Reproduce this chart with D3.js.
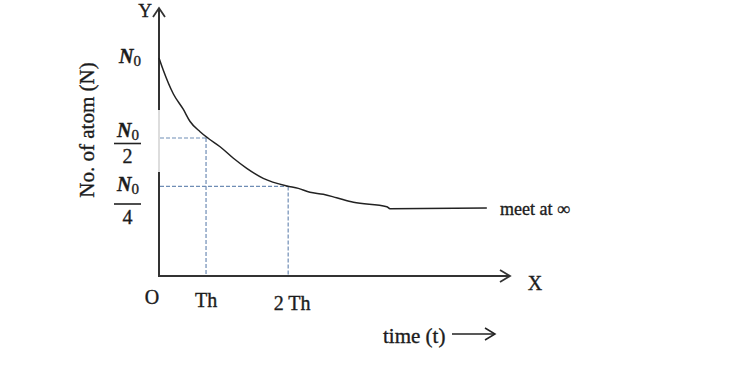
<!DOCTYPE html>
<html><head><meta charset="utf-8">
<script src="https://cdn.jsdelivr.net/npm/d3@7"></script>
<style>body{margin:0;background:#fff}svg{display:block}text{font-family:"Liberation Serif","Times New Roman",serif;fill:#1c1c1c;stroke:#1c1c1c;stroke-width:0.35px}</style>
</head><body>
<svg id="c" width="751" height="381"></svg>
<script>
// Data (arbitrary units)
const curveT = [0, 1.2, 4.1, 6.9, 8.8, 11.7, 14.0, 17.4, 21.2, 25.0, 29.7, 36.4, 39.7, 43.0, 46.8, 50.6, 55.4, 64.9, 65.8, 93.4];
const curveN = [100, 94.5, 83.5, 76.5, 71.0, 66.2, 63.2, 59.3, 54.0, 49.4, 44.8, 41.3, 40.2, 38.4, 37.5, 35.9, 33.8, 31.8, 30.9, 31.2];
const xTickVals = [0, 13.4, 36.8];
const xTickLabels = ["O", "Th", "2 Th"];
const yTickVals = [100, 63.3, 41.1];
const yTickDenoms = [null, "2", "4"];

const svg = d3.select("#c");
const x = d3.scaleLinear().domain([0, 100]).range([159, 510]);
const y = d3.scaleLinear().domain([0, 100]).range([276, 58]);
const ink = "#222";

// dashed guides
[1, 2].forEach(i => {
  svg.append("line").attr("x1", x(0) + 1).attr("x2", x(xTickVals[i])).attr("y1", y(yTickVals[i])).attr("y2", y(yTickVals[i]))
    .attr("stroke", "#6f8db5").attr("stroke-width", 1.2).attr("stroke-dasharray", "4,2");
  svg.append("line").attr("x1", x(xTickVals[i])).attr("x2", x(xTickVals[i])).attr("y1", y(yTickVals[i])).attr("y2", y(0))
    .attr("stroke", "#6f8db5").attr("stroke-width", 1.2).attr("stroke-dasharray", "4,2");
});

// y axis (dark / light / dark segments)
svg.append("line").attr("x1", x(0)).attr("x2", x(0)).attr("y1", 9).attr("y2", 110).attr("stroke", "#333").attr("stroke-width", 2);
svg.append("line").attr("x1", x(0)).attr("x2", x(0)).attr("y1", 110).attr("y2", 172).attr("stroke", "#bbb").attr("stroke-width", 1);
svg.append("line").attr("x1", x(0)).attr("x2", x(0)).attr("y1", 172).attr("y2", y(0) + 1).attr("stroke", "#333").attr("stroke-width", 2);
svg.append("path").attr("d", `M${x(0)-6},${17} L${x(0)},${8} L${x(0)+6},${17}`).attr("fill", "none").attr("stroke", "#333").attr("stroke-width", 1.8);

// x axis
svg.append("line").attr("x1", x(0) - 1).attr("x2", x(100)).attr("y1", y(0)).attr("y2", y(0)).attr("stroke", "#333").attr("stroke-width", 2);
svg.append("path").attr("d", `M${x(100)-10},${y(0)-6} L${x(100)},${y(0)} L${x(100)-10},${y(0)+6}`).attr("fill", "none").attr("stroke", "#333").attr("stroke-width", 1.8);

// curve
const pts = curveT.map((t, i) => [t, curveN[i]]);
svg.append("path").datum(pts)
  .attr("d", d3.line().x(d => x(d[0])).y(d => y(d[1])).curve(d3.curveMonotoneX))
  .attr("fill", "none").attr("stroke", ink).attr("stroke-width", 1.5);

// axis letters
svg.append("text").attr("x", 145).attr("y", 17).attr("text-anchor", "middle").attr("font-size", 19).text("Y");
svg.append("text").attr("x", 535).attr("y", 290).attr("text-anchor", "middle").attr("font-size", 20).text("X");

// x tick labels
const xOff = [-7, 0, 4];
const yBase = [304, 307, 310];
xTickVals.forEach((v, i) => {
  svg.append("text").attr("x", x(v) + xOff[i]).attr("y", yBase[i]).attr("text-anchor", "middle").attr("font-size", 20).text(xTickLabels[i]);
});

// y tick labels (N0, N0/2, N0/4)
function n0(g, cx, base) {
  const t = g.append("text").attr("x", cx).attr("y", base).attr("text-anchor", "middle").attr("font-size", 20);
  t.append("tspan").attr("font-style", "italic").attr("font-weight", "bold").text("N");
  t.append("tspan").attr("font-size", 15).attr("dy", 3).text("0");
}
const numBase = [63, 137, 191];
const barY = [null, 143.5, 204];
const denBase = [null, 163, 224];
yTickVals.forEach((v, i) => {
  const g = svg.append("g");
  if (!yTickDenoms[i]) {
    n0(g, 130, numBase[i]);
  } else {
    n0(g, 128, numBase[i]);
    g.append("line").attr("x1", 114).attr("x2", 141).attr("y1", barY[i]).attr("y2", barY[i]).attr("stroke", ink).attr("stroke-width", 1.6);
    g.append("text").attr("x", 127.5).attr("y", denBase[i]).attr("text-anchor", "middle").attr("font-size", 20).text(yTickDenoms[i]);
  }
});

// y title
svg.append("text").attr("transform", "translate(94,130) rotate(-90)").attr("text-anchor", "middle").attr("font-size", 21).text("No. of atom (N)");

// annotations
svg.append("text").attr("x", 500).attr("y", 215).attr("font-size", 18).text("meet at ∞");
svg.append("text").attr("x", 383).attr("y", 343).attr("font-size", 21).text("time (t)");
svg.append("line").attr("x1", 452).attr("x2", 494).attr("y1", 334).attr("y2", 334).attr("stroke", ink).attr("stroke-width", 1.5);
svg.append("path").attr("d", "M485,328 L495,334 L485,340").attr("fill", "none").attr("stroke", ink).attr("stroke-width", 1.5);
</script>
</body></html>
